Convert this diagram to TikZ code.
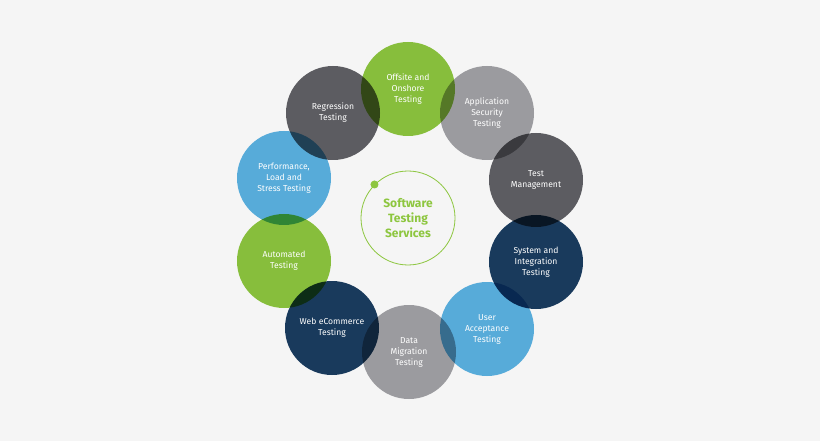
\documentclass[tikz,border=0pt]{standalone}
\usepackage{fontspec}
\setmainfont{Fira Sans}
\definecolor{cg}{HTML}{8DC63F}
\definecolor{clg}{HTML}{A2A2A6}
\definecolor{cdg}{HTML}{606065}
\definecolor{cb}{HTML}{5BB3E2}
\definecolor{cn}{HTML}{1B3D60}
\definecolor{bg}{HTML}{F5F5F5}
\begin{document}
\begin{tikzpicture}[x=1pt,y=-1pt,
  disc/.style={blend mode=multiply},
  lbl/.style={circle,minimum size=94pt,inner sep=0pt,text=white,font=\fontsize{8.6}{11}\selectfont,align=center}]
\fill[bg] (0,0) rectangle (820,441);
\foreach \x/\y/\c in {333/113/cdg,408/89/cg,487/113/clg,536/180/cdg,536/262/cn,487/329/cb,409/352/clg,332/328/cn,284/261/cg,284/178/cb}
  \fill[disc,\c] (\x,\y) circle (47pt);
\node[lbl] (reg) at (333,113) {Regression\\Testing};
\node[lbl] (off) at (408,89) {Offsite and\\Onshore\\Testing};
\node[lbl] (app) at (487,113) {Application\\Security\\Testing};
\node[lbl] (tm) at (536,180) {Test\\Management};
\node[lbl] (sys) at (536,262) {System and\\Integration\\Testing};
\node[lbl] (ua) at (487,329) {User\\Acceptance\\Testing};
\node[lbl] (dm) at (409,352) {Data\\Migration\\Testing};
\node[lbl] (web) at (332,328) {Web eCommerce\\Testing};
\node[lbl] (aut) at (284,261) {Automated\\Testing};
\node[lbl] (perf) at (284,178) {Performance,\\Load and\\Stress Testing};
\node[circle,draw=cg,line width=0.8pt,minimum size=94pt,inner sep=0pt,text=cg,align=center,font=\bfseries\fontsize{12}{15}\selectfont] (core) at (408,218) {Software\\Testing\\Services};
\fill[cg] (core.135) circle (4pt);
\end{tikzpicture}
\end{document}
